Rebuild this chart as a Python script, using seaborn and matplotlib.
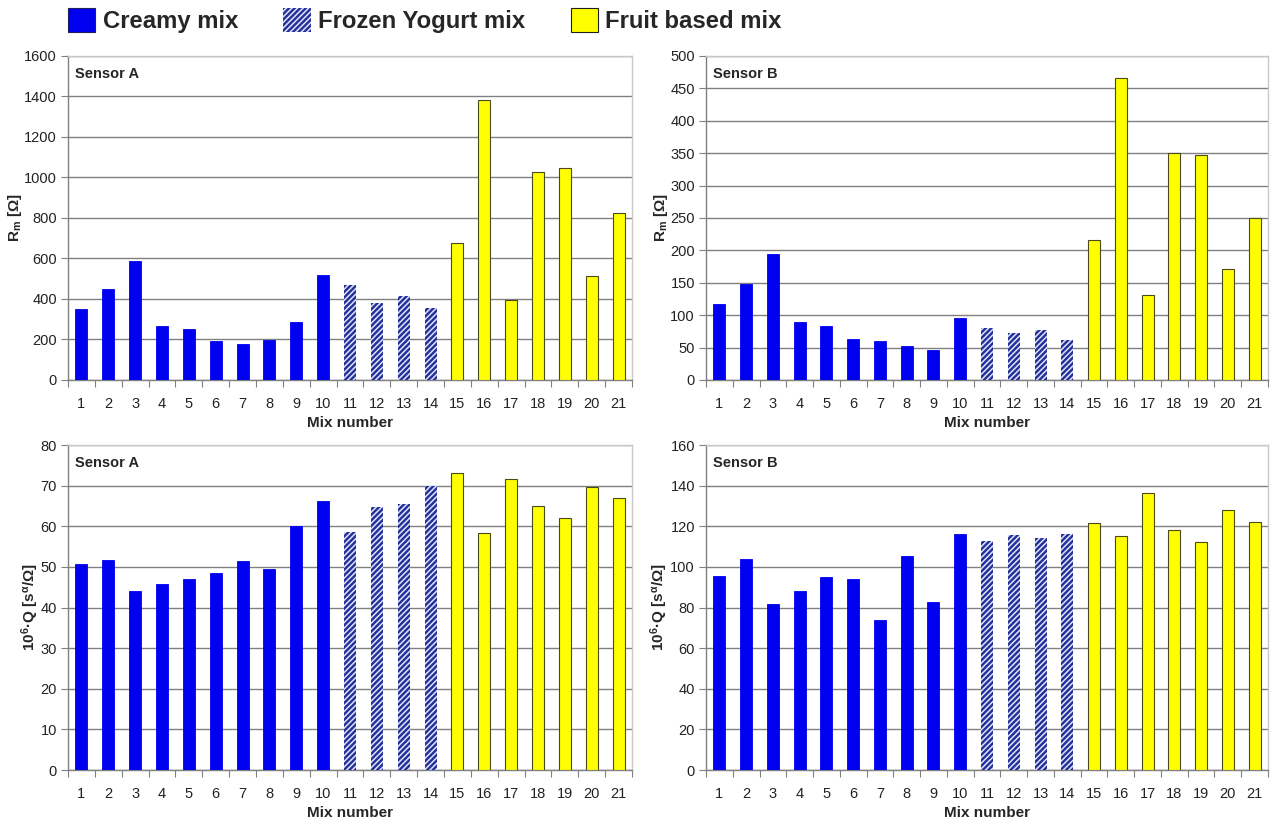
import matplotlib
matplotlib.use("Agg")
import matplotlib.pyplot as plt
from matplotlib.patches import Patch
from matplotlib.ticker import FixedLocator
import seaborn as sns
import pandas as pd
import numpy as np

# ---------------- data ----------------
mix_numbers = [str(i) for i in range(1, 22)]
mix_types = (["Creamy mix"] * 10 + ["Frozen Yogurt mix"] * 4 + ["Fruit based mix"] * 7)

rm_sensor_a = [350, 450, 590, 268, 252, 195, 178, 198, 288, 520,
               468, 380, 415, 358,
               675, 1385, 397, 1028, 1045, 515, 825]
rm_sensor_b = [117, 148, 195, 90, 84, 63, 60, 52, 47, 95,
               81, 73, 77, 62,
               216, 466, 131, 350, 347, 172, 250]
q_sensor_a = [50.8, 51.8, 44.0, 45.8, 47.1, 48.4, 51.4, 49.6, 60.0, 66.1,
              58.5, 64.7, 65.5, 70.0,
              73.0, 58.4, 71.6, 65.0, 62.0, 69.6, 67.0]
q_sensor_b = [95.5, 104.0, 81.5, 88.0, 95.0, 94.0, 74.0, 105.5, 82.5, 116.0,
              112.5, 115.8, 114.2, 116.2,
              121.5, 115.2, 136.2, 118.0, 112.2, 128.0, 122.0]

type_order = ["Creamy mix", "Frozen Yogurt mix", "Fruit based mix"]
panel_labels = ["Sensor A", "Sensor B", "Sensor A", "Sensor B"]
y_limits = [(0, 1600), (0, 500), (0, 80), (0, 160)]
y_steps = [200, 50, 10, 20]
x_label = "Mix number"
rm_label = r"R$_\mathbf{m}$ [Ω]"
q_label = r"10$^\mathbf{6}$·Q [s$^\mathbf{α}$/Ω]"

# ---------------- style ----------------
sns.set_style("white")
plt.rcParams["font.family"] = ["Liberation Sans", "DejaVu Sans"]
plt.rcParams["mathtext.fontset"] = "custom"
plt.rcParams["mathtext.rm"] = "Liberation Sans:bold"
plt.rcParams["mathtext.it"] = "Liberation Sans:bold"
plt.rcParams["mathtext.bf"] = "Liberation Sans:bold"
plt.rcParams["hatch.linewidth"] = 1.1

blue = "#0000F0"
yog_face = "#24309A"
yog_hatch = "#E0E4FA"
yellow = "#FFFF00"
palette = {"Creamy mix": blue, "Frozen Yogurt mix": yog_face, "Fruit based mix": yellow}

df = pd.DataFrame({
    "mix": mix_numbers,
    "type": mix_types,
    "rm_a": rm_sensor_a,
    "rm_b": rm_sensor_b,
    "q_a": q_sensor_a,
    "q_b": q_sensor_b,
})

fig = plt.figure(figsize=(12.75, 8.23), dpi=100)
W, H = 1275, 823
boxes = [(68, 56, 632, 380), (706, 56, 1268, 380), (68, 445, 632, 770), (706, 445, 1268, 770)]
cols = ["rm_a", "rm_b", "q_a", "q_b"]
ylabels = [rm_label, rm_label, q_label, q_label]

for i, (l, t, r, b) in enumerate(boxes):
    ax = fig.add_axes([l / W, 1 - b / H, (r - l) / W, (b - t) / H])
    sns.barplot(data=df, x="mix", y=cols[i], hue="type", hue_order=type_order,
                palette=palette, dodge=False, width=0.45, legend=False,
                saturation=1, ax=ax, zorder=3)
    for cont, tname in zip(ax.containers, type_order):
        for p in cont:
            if tname == "Creamy mix":
                p.set_edgecolor(blue)
                p.set_linewidth(0.6)
            elif tname == "Frozen Yogurt mix":
                p.set_hatch("//////")
                p.set_edgecolor(yog_hatch)
                p.set_linewidth(0.0)
            else:
                p.set_edgecolor("#4a4a1a")
                p.set_linewidth(0.8)
    lo, hi = y_limits[i]
    ax.set_ylim(lo, hi)
    ax.set_xlim(-0.5, 20.5)
    ax.set_yticks(np.arange(lo, hi + 1, y_steps[i]))
    ax.yaxis.grid(True, color="#808080", linewidth=1.0, zorder=0)
    ax.set_axisbelow(True)
    ax.xaxis.set_minor_locator(FixedLocator(np.arange(-0.5, 21, 1.0)))
    ax.tick_params(axis="x", which="major", length=0, pad=12, labelsize=10.5, colors="#222222")
    ax.tick_params(axis="x", which="minor", length=5, width=0.8, color="#808080", direction="out", bottom=True)
    ax.tick_params(axis="y", which="major", length=5, width=0.8, color="#808080", direction="out",
                   left=True, labelsize=10.5, labelcolor="#222222", pad=3)
    for s in ["left", "bottom"]:
        ax.spines[s].set_color("#808080")
        ax.spines[s].set_linewidth(1.0)
    for s in ["top", "right"]:
        ax.spines[s].set_color("#C8C8C8")
        ax.spines[s].set_linewidth(1.0)
    ax.set_xlabel(x_label, fontsize=11, fontweight="bold", labelpad=4)
    ax.set_ylabel(ylabels[i], fontsize=11, fontweight="bold", labelpad=0)
    ax.text(0.012, 0.965, panel_labels[i], transform=ax.transAxes, ha="left", va="top",
            fontsize=10.5, fontweight="bold")

handles = [
    Patch(facecolor=blue, edgecolor="#202060", linewidth=0.8),
    Patch(facecolor=yog_face, edgecolor=yog_hatch, hatch="//////", linewidth=0),
    Patch(facecolor=yellow, edgecolor="#202020", linewidth=0.8),
]
fig.legend(handles, type_order, loc="upper left", bbox_to_anchor=(68 / W, 1 - 8 / H), ncol=3,
           frameon=False, prop={"weight": "bold", "size": 17.2}, borderpad=0, borderaxespad=0,
           handlelength=1.15, handleheight=1.15, handletextpad=0.3, columnspacing=1.9)

fig.savefig("out.png", dpi=100)
